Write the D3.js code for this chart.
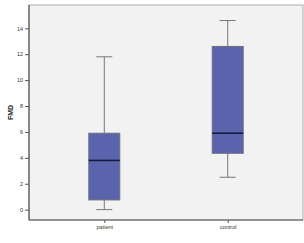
<!DOCTYPE html>
<html>
<head>
    <meta charset="utf-8" />
    <script src="https://d3js.org/d3.v7.min.js"></script>
    <style>
        body { margin: 0; background: #fff; }
        svg { display: block; }
    </style>
</head>
<body>
    <svg width="304" height="243"></svg>
    <script>
        // box summaries
        var groups = ["patient", "control"];
        var whiskerLow = [0.0, 2.5];
        var q1 = [0.75, 4.35];
        var median = [3.8, 5.9];
        var q3 = [5.9, 12.6];
        var whiskerHigh = [11.8, 14.6];
        var yTicks = [0, 2, 4, 6, 8, 10, 12, 14];

        var svg = d3.select("svg");
        var plotL = 29, plotR = 303, plotT = 5, plotB = 220;

        var x = d3.scalePoint().domain(groups).range([plotL, plotR]).padding(0.61);
        var y = d3.scaleLinear().domain([-0.8, 15.8]).range([plotB, plotT]);
        var boxW = 31, capW = 16;

        // plot background + light frame
        svg.append("rect")
            .attr("x", plotL).attr("y", plotT)
            .attr("width", plotR - plotL).attr("height", plotB - plotT)
            .attr("fill", "#f2f2f2")
            .attr("stroke", "#b8b8b8").attr("stroke-width", 1.2);

        var yAxis = svg.append("g")
            .attr("transform", "translate(" + plotL + ",0)")
            .call(d3.axisLeft(y).tickValues(yTicks).tickSize(4).tickPadding(2));
        yAxis.select(".domain").remove();
        yAxis.selectAll("line").attr("stroke", "#555");
        yAxis.selectAll("text").attr("font-family", "Arial, Liberation Sans, sans-serif")
            .attr("font-size", 5.5).attr("fill", "#333");

        var xAxis = svg.append("g")
            .attr("transform", "translate(0," + plotB + ")")
            .call(d3.axisBottom(x).tickSize(3).tickPadding(2));
        xAxis.select(".domain").remove();
        xAxis.selectAll("line").attr("stroke", "#555");
        xAxis.selectAll("text").attr("font-family", "Arial, Liberation Sans, sans-serif")
            .attr("font-size", 5.5).attr("fill", "#333");

        // dark left and bottom axis lines
        svg.append("line").attr("x1", plotL).attr("x2", plotL).attr("y1", plotT).attr("y2", plotB)
            .attr("stroke", "#555").attr("stroke-width", 1.2);
        svg.append("line").attr("x1", plotL).attr("x2", plotR).attr("y1", plotB).attr("y2", plotB)
            .attr("stroke", "#555").attr("stroke-width", 1.2);

        var g = svg.selectAll(".box").data(groups).enter().append("g").attr("class", "box");

        g.append("line")
            .attr("x1", function (d) { return x(d); })
            .attr("x2", function (d) { return x(d); })
            .attr("y1", function (d, i) { return y(whiskerLow[i]); })
            .attr("y2", function (d, i) { return y(whiskerHigh[i]); })
            .attr("stroke", "#777").attr("stroke-width", 1);

        [whiskerLow, whiskerHigh].forEach(function (arr) {
            g.append("line")
                .attr("x1", function (d) { return x(d) - capW / 2; })
                .attr("x2", function (d) { return x(d) + capW / 2; })
                .attr("y1", function (d, i) { return y(arr[i]); })
                .attr("y2", function (d, i) { return y(arr[i]); })
                .attr("stroke", "#777").attr("stroke-width", 1);
        });

        g.append("rect")
            .attr("x", function (d) { return x(d) - boxW / 2; })
            .attr("width", boxW)
            .attr("y", function (d, i) { return y(q3[i]); })
            .attr("height", function (d, i) { return y(q1[i]) - y(q3[i]); })
            .attr("fill", "#5a64ad")
            .attr("stroke", "#6f6f80").attr("stroke-width", 1);

        g.append("line")
            .attr("x1", function (d) { return x(d) - boxW / 2; })
            .attr("x2", function (d) { return x(d) + boxW / 2; })
            .attr("y1", function (d, i) { return y(median[i]); })
            .attr("y2", function (d, i) { return y(median[i]); })
            .attr("stroke", "#141a40").attr("stroke-width", 1.6);

        svg.append("text")
            .attr("transform", "translate(13," + ((plotT + plotB) / 2) + ") rotate(-90)")
            .attr("text-anchor", "middle")
            .attr("font-family", "Arial, Liberation Sans, sans-serif")
            .attr("font-size", 7).attr("font-weight", "bold").attr("fill", "#222")
            .text("FMD");
    </script>
</body>
</html>
